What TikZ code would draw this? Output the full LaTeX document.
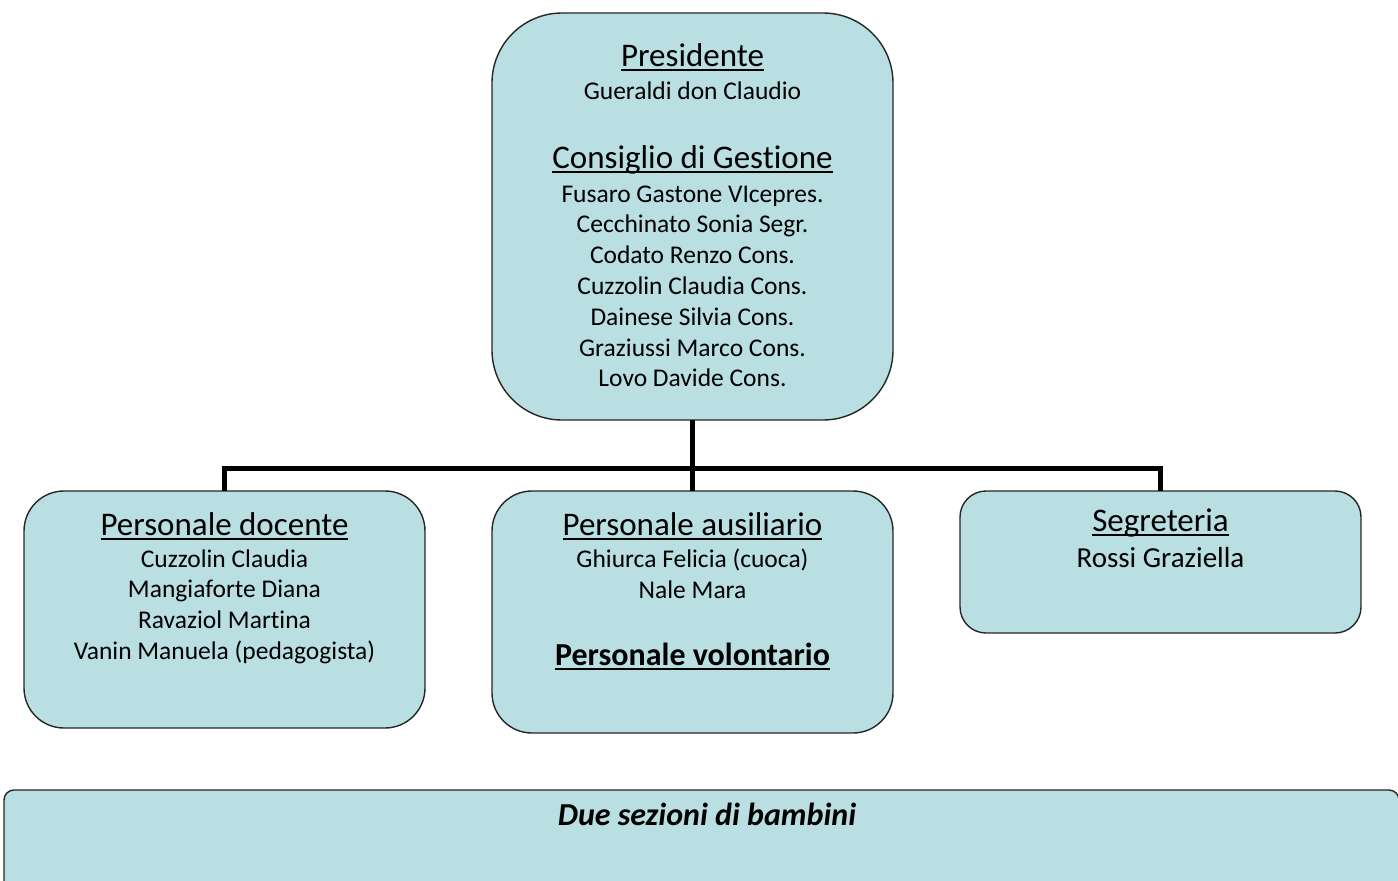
\documentclass[tikz,border=0pt]{standalone}
\usepackage{fontspec}
\setmainfont[Ligatures=NoCommon]{Carlito}
\definecolor{boxfill}{RGB}{185,223,227}
\newcommand\ulhead[1]{\leavevmode\setbox0=\hbox{#1}\rlap{\rule[-0.15em]{\wd0}{0.065em}}\box0}
\begin{document}
\begin{tikzpicture}[x=1pt,y=-1pt,line join=miter,
    box/.style={draw=black!85,line width=1.4pt,fill=boxfill,rounded corners=#1,
      inner sep=0pt,outer sep=0pt,anchor=north west},
    conn/.style={line width=5pt},
    head/.style={anchor=base,inner sep=0pt,font=\fontsize{33}{38}\selectfont},
    names/.style={anchor=base,inner sep=0pt,font=\fontsize{25.5}{30}\selectfont}]
  \useasboundingbox (0,0) rectangle (1398,881);
  % boxes
  \node[box=70pt,minimum width=401pt,minimum height=407pt] (pres) at (492,13) {};
  \node[box=40pt,minimum width=401pt,minimum height=237pt] (doc) at (24,491) {};
  \node[box=40pt,minimum width=401pt,minimum height=242pt] (aus) at (492,491) {};
  \node[box=26pt,minimum width=401pt,minimum height=142pt] (seg) at (960,491) {};
  \node[box=10pt,minimum width=1395pt,minimum height=120pt] (sez) at (4,790) {};
  % connectors
  \coordinate (bus) at (692.5,468);
  \draw[conn] (pres.south) -- (aus.north);
  \draw[conn] (doc.north) |- (bus) -| (seg.north);
  % top box
  \node[head] (presT) at (692.5,66) {\ulhead{Presidente}};
  \node[names] (presN) at (692.5,99) {Gueraldi don Claudio};
  \node[head] (consT) at (692.5,168) {\ulhead{Consiglio di Gestione}};
  \foreach \nm [count=\i] in {Fusaro Gastone VIcepres.,Cecchinato Sonia Segr.,
      Codato Renzo Cons.,Cuzzolin Claudia Cons.,Dainese Silvia Cons.,
      Graziussi Marco Cons.,Lovo Davide Cons.}
    \node[names] (cons\i) at (692.5,{202+30.8*(\i-1)}) {\nm};
  % lower boxes
  \node[head] (docT) at (224.5,535) {\ulhead{Personale docente}};
  \foreach \nm [count=\i] in {Cuzzolin Claudia,Mangiaforte Diana,
      Ravaziol Martina,Vanin Manuela (pedagogista)}
    \node[names] (doc\i) at (224.5,{567+30.8*(\i-1)}) {\nm};
  \node[head] (ausT) at (692.5,535) {\ulhead{Personale ausiliario}};
  \node[names] (aus1) at (692.5,567) {Ghiurca Felicia (cuoca)};
  \node[names] (aus2) at (692.5,598) {Nale Mara};
  \node[head,font=\fontsize{32}{37}\selectfont\bfseries] (vol) at (692.5,665) {\ulhead{Personale volontario}};
  \node[head] (segT) at (1160.5,531) {\ulhead{Segreteria}};
  \node[names,font=\fontsize{29}{34}\selectfont] (segN) at (1160.5,567) {Rossi Graziella};
  \node[head,font=\fontsize{32}{37}\selectfont\bfseries\itshape] (sezT) at (707,825) {Due sezioni di bambini};
\end{tikzpicture}
\end{document}
